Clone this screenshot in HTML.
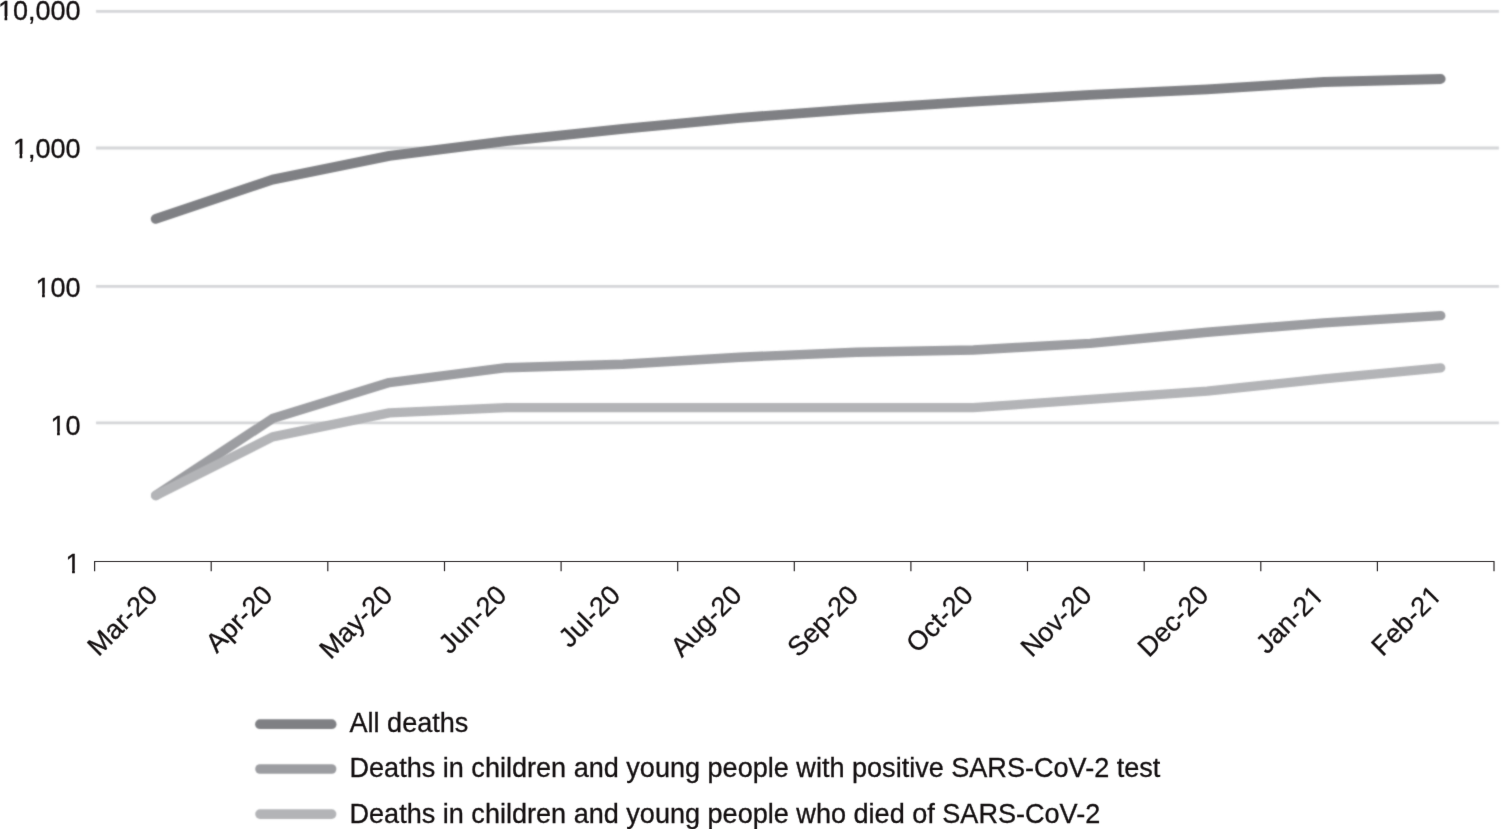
<!DOCTYPE html>
<html><head><meta charset="utf-8"><style>
html,body{margin:0;padding:0;background:#fff;}
svg{display:block;}
text{font-family:"Liberation Sans",Arial,Helvetica,sans-serif;fill:#141011;stroke:#141011;stroke-width:0.3;}
</style></head><body>
<svg width="1501" height="829" viewBox="0 0 1501 829">
<defs><filter id="bl" filterUnits="userSpaceOnUse" x="0" y="0" width="1501" height="829" color-interpolation-filters="sRGB"><feConvolveMatrix order="3" kernelMatrix="0.00524 0.06192 0.00524 0.06192 0.73137 0.06192 0.00524 0.06192 0.00524" edgeMode="duplicate" preserveAlpha="false"/></filter>
<filter id="bl2" filterUnits="userSpaceOnUse" x="0" y="0" width="1501" height="829" color-interpolation-filters="sRGB"><feConvolveMatrix order="5" kernelMatrix="0.00001 0.00042 0.00170 0.00042 0.00001 0.00042 0.02740 0.10988 0.02740 0.00042 0.00170 0.10988 0.44065 0.10988 0.00170 0.00042 0.02740 0.10988 0.02740 0.00042 0.00001 0.00042 0.00170 0.00042 0.00001" edgeMode="none" preserveAlpha="false"/></filter></defs>
<rect width="1501" height="829" fill="#fff"/>
<g filter="url(#bl)">

<g filter="url(#bl2)">
<line x1="96" y1="11.3" x2="1498.9" y2="11.3" stroke="#d4d5d8" stroke-width="2.8"/>
<line x1="96" y1="148.0" x2="1498.9" y2="148.0" stroke="#d4d5d8" stroke-width="2.8"/>
<line x1="96" y1="286.3" x2="1498.9" y2="286.3" stroke="#d4d5d8" stroke-width="2.8"/>
<line x1="96" y1="422.8" x2="1498.9" y2="422.8" stroke="#d4d5d8" stroke-width="2.8"/>
</g>
<text x="80.5" y="19.7" font-size="27" text-anchor="end">10,000</text>
<rect x="-1.03" y="16" width="5.57" height="5" fill="#fff"/>
<rect x="7.25" y="16" width="5.36" height="5" fill="#fff"/>
<text x="80.5" y="157.8" font-size="27" text-anchor="end">1,000</text>
<rect x="13.99" y="154" width="5.57" height="5" fill="#fff"/>
<rect x="22.27" y="154" width="5.36" height="5" fill="#fff"/>
<text x="80.5" y="296.6" font-size="27" text-anchor="end">100</text>
<rect x="36.51" y="293" width="5.57" height="5" fill="#fff"/>
<rect x="44.79" y="293" width="5.36" height="5" fill="#fff"/>
<text x="80.5" y="434.7" font-size="27" text-anchor="end">10</text>
<rect x="51.52" y="431" width="5.57" height="5" fill="#fff"/>
<rect x="59.80" y="431" width="5.36" height="5" fill="#fff"/>
<text x="80.5" y="573.0" font-size="27" text-anchor="end">1</text>
<rect x="66.54" y="570" width="5.57" height="5" fill="#fff"/>
<rect x="74.82" y="570" width="5.36" height="5" fill="#fff"/>
<path d="M94.6,571.2 V561.5 H1494 V571.2" fill="none" stroke="#2b2728" stroke-width="1.2"/>
<line x1="211.2" y1="561.5" x2="211.2" y2="571.2" stroke="#2b2728" stroke-width="1.2"/>
<line x1="327.8" y1="561.5" x2="327.8" y2="571.2" stroke="#2b2728" stroke-width="1.2"/>
<line x1="444.5" y1="561.5" x2="444.5" y2="571.2" stroke="#2b2728" stroke-width="1.2"/>
<line x1="561.1" y1="561.5" x2="561.1" y2="571.2" stroke="#2b2728" stroke-width="1.2"/>
<line x1="677.7" y1="561.5" x2="677.7" y2="571.2" stroke="#2b2728" stroke-width="1.2"/>
<line x1="794.3" y1="561.5" x2="794.3" y2="571.2" stroke="#2b2728" stroke-width="1.2"/>
<line x1="910.9" y1="561.5" x2="910.9" y2="571.2" stroke="#2b2728" stroke-width="1.2"/>
<line x1="1027.5" y1="561.5" x2="1027.5" y2="571.2" stroke="#2b2728" stroke-width="1.2"/>
<line x1="1144.2" y1="561.5" x2="1144.2" y2="571.2" stroke="#2b2728" stroke-width="1.2"/>
<line x1="1260.8" y1="561.5" x2="1260.8" y2="571.2" stroke="#2b2728" stroke-width="1.2"/>
<line x1="1377.4" y1="561.5" x2="1377.4" y2="571.2" stroke="#2b2728" stroke-width="1.2"/>
<text x="159.1" y="596.7" font-size="27" text-anchor="end" transform="rotate(-45 159.1 596.7)">Mar-20</text>
<text x="274.2" y="596.7" font-size="27" text-anchor="end" transform="rotate(-45 274.2 596.7)">Apr-20</text>
<text x="394.1" y="596.7" font-size="27" text-anchor="end" transform="rotate(-45 394.1 596.7)">May-20</text>
<text x="508.2" y="596.7" font-size="27" text-anchor="end" transform="rotate(-45 508.2 596.7)">Jun-20</text>
<text x="621.8" y="596.7" font-size="27" text-anchor="end" transform="rotate(-45 621.8 596.7)">Jul-20</text>
<text x="743.3" y="596.7" font-size="27" text-anchor="end" transform="rotate(-45 743.3 596.7)">Aug-20</text>
<text x="860.0" y="596.7" font-size="27" text-anchor="end" transform="rotate(-45 860.0 596.7)">Sep-20</text>
<text x="974.6" y="596.7" font-size="27" text-anchor="end" transform="rotate(-45 974.6 596.7)">Oct-20</text>
<text x="1093.4" y="596.7" font-size="27" text-anchor="end" transform="rotate(-45 1093.4 596.7)">Nov-20</text>
<text x="1210.2" y="596.7" font-size="27" text-anchor="end" transform="rotate(-45 1210.2 596.7)">Dec-20</text>
<text x="1325.3" y="596.7" font-size="27" text-anchor="end" transform="rotate(-45 1325.3 596.7)">Jan-21</text>
<g transform="rotate(-45 1325.3 596.7)"><rect x="1311.34" y="593" width="5.57" height="5" fill="#fff"/><rect x="1319.62" y="593" width="5.36" height="5" fill="#fff"/></g>
<text x="1443.1" y="596.7" font-size="27" text-anchor="end" transform="rotate(-45 1443.1 596.7)">Feb-21</text>
<g transform="rotate(-45 1443.1 596.7)"><rect x="1429.14" y="593" width="5.57" height="5" fill="#fff"/><rect x="1437.42" y="593" width="5.36" height="5" fill="#fff"/></g>
<g filter="url(#bl2)">
<polyline points="155.7,218.9 272.5,179.6 389.3,155.9 506.2,141.1 623.0,128.9 739.8,117.8 856.6,109.1 973.4,101.7 1090.3,94.8 1207.1,89.4 1323.9,82.0 1440.7,79.0" fill="none" stroke="#7f8084" stroke-width="9.8" stroke-linecap="round" stroke-linejoin="round"/>
<polyline points="155.7,495.5 272.5,418.6 389.3,382.6 506.2,367.7 623.0,364.3 739.8,357.2 856.6,352.3 973.4,350.0 1090.3,343.4 1207.1,332.3 1323.9,322.9 1440.7,315.6" fill="none" stroke="#9c9da1" stroke-width="9.4" stroke-linecap="round" stroke-linejoin="round"/>
<polyline points="155.7,495.5 272.5,436.9 389.3,412.9 506.2,407.7 623.0,407.7 739.8,407.7 856.6,407.7 973.4,407.7 1090.3,399.4 1207.1,391.1 1323.9,378.9 1440.7,367.9" fill="none" stroke="#b3b4b7" stroke-width="9.3" stroke-linecap="round" stroke-linejoin="round"/>
</g>
<g filter="url(#bl2)">
<line x1="260.0" y1="724.2" x2="331.6" y2="724.2" stroke="#7f8084" stroke-width="9.8" stroke-linecap="round"/>
<line x1="260.0" y1="769.0" x2="331.6" y2="769.0" stroke="#9c9da1" stroke-width="9.6" stroke-linecap="round"/>
<line x1="260.0" y1="814.1" x2="331.6" y2="814.1" stroke="#b3b4b7" stroke-width="9.6" stroke-linecap="round"/>
</g>
<text x="349.5" y="731.5" font-size="27.07">All deaths</text>
<text x="349.5" y="776.6" font-size="27.07">Deaths in children and young people with positive SARS-CoV-2 test</text>
<text x="349.5" y="823.2" font-size="27.07">Deaths in children and young people who died of SARS-CoV-2</text>
</g>
</svg>
</body></html>
